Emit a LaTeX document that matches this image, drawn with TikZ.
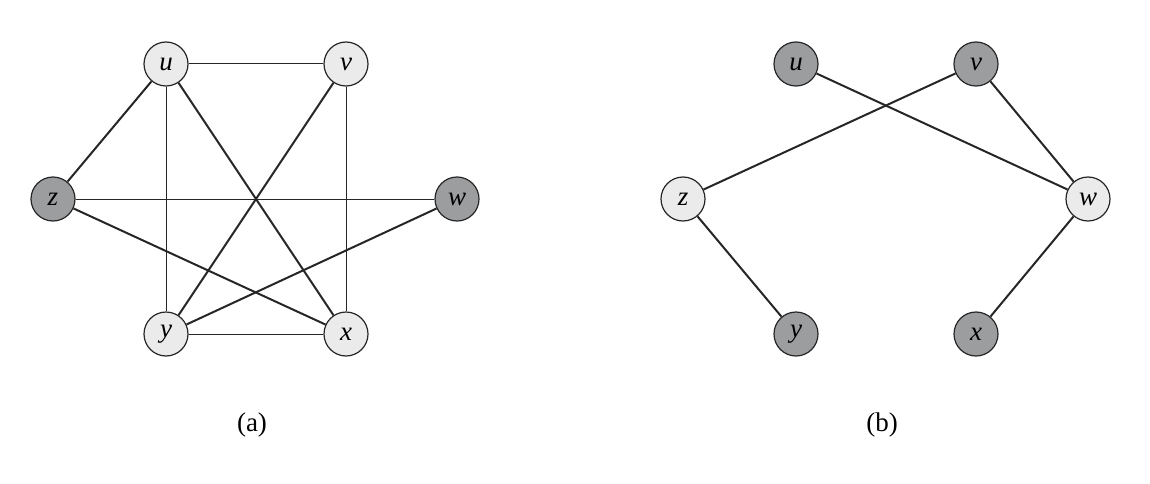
\documentclass[tikz,border=0pt]{standalone}
\usepackage{fontspec}
\setmainfont{Liberation Serif}
\begin{document}
\begin{tikzpicture}[x=1pt,y=-1pt,
  vtx/.style={circle,draw=black!85,line width=1.2pt,minimum size=44pt,inner sep=0pt,font=\fontsize{27}{30}\selectfont\itshape},
  lite/.style={vtx,fill={rgb,255:red,235;green,235;blue,235}},
  dark/.style={vtx,fill={rgb,255:red,155;green,157;blue,159}},
  thk/.style={line width=2pt,draw=black!85},
  thn/.style={line width=1.0pt,draw=black!85},
  caplabel/.style={font=\fontsize{27}{30}\selectfont}]
\useasboundingbox (0,0) rectangle (1150,484);
% (a)
\node[lite] (au) at (166,64) {u};
\node[lite] (av) at (346,64) {v};
\node[dark] (az) at (53,199) {z};
\node[dark] (aw) at (457,199) {w};
\node[lite] (ay) at (166,334) {y};
\node[lite] (ax) at (346,334) {x};
\draw[thn] (au) -- (av);
\draw[thn] (au) -- (ay);
\draw[thn] (av) -- (ax);
\draw[thn] (az) -- (aw);
\draw[thn] (ay) -- (ax);
\draw[thk] (az) -- (au);
\draw[thk] (au) -- (ax);
\draw[thk] (av) -- (ay);
\draw[thk] (aw) -- (ay);
\draw[thk] (az) -- (ax);
\node[caplabel] (la) at (252,425) {(a)};
% (b)
\node[dark] (bu) at (796,64) {u};
\node[dark] (bv) at (976,64) {v};
\node[lite] (bz) at (683,199) {z};
\node[lite] (bw) at (1088,199) {w};
\node[dark] (by) at (796,334) {y};
\node[dark] (bx) at (976,334) {x};
\draw[thk] (bu) -- (bw);
\draw[thk] (bv) -- (bz);
\draw[thk] (bv) -- (bw);
\draw[thk] (bz) -- (by);
\draw[thk] (bw) -- (bx);
\node[caplabel] (lb) at (882,425) {(b)};
\end{tikzpicture}
\end{document}
